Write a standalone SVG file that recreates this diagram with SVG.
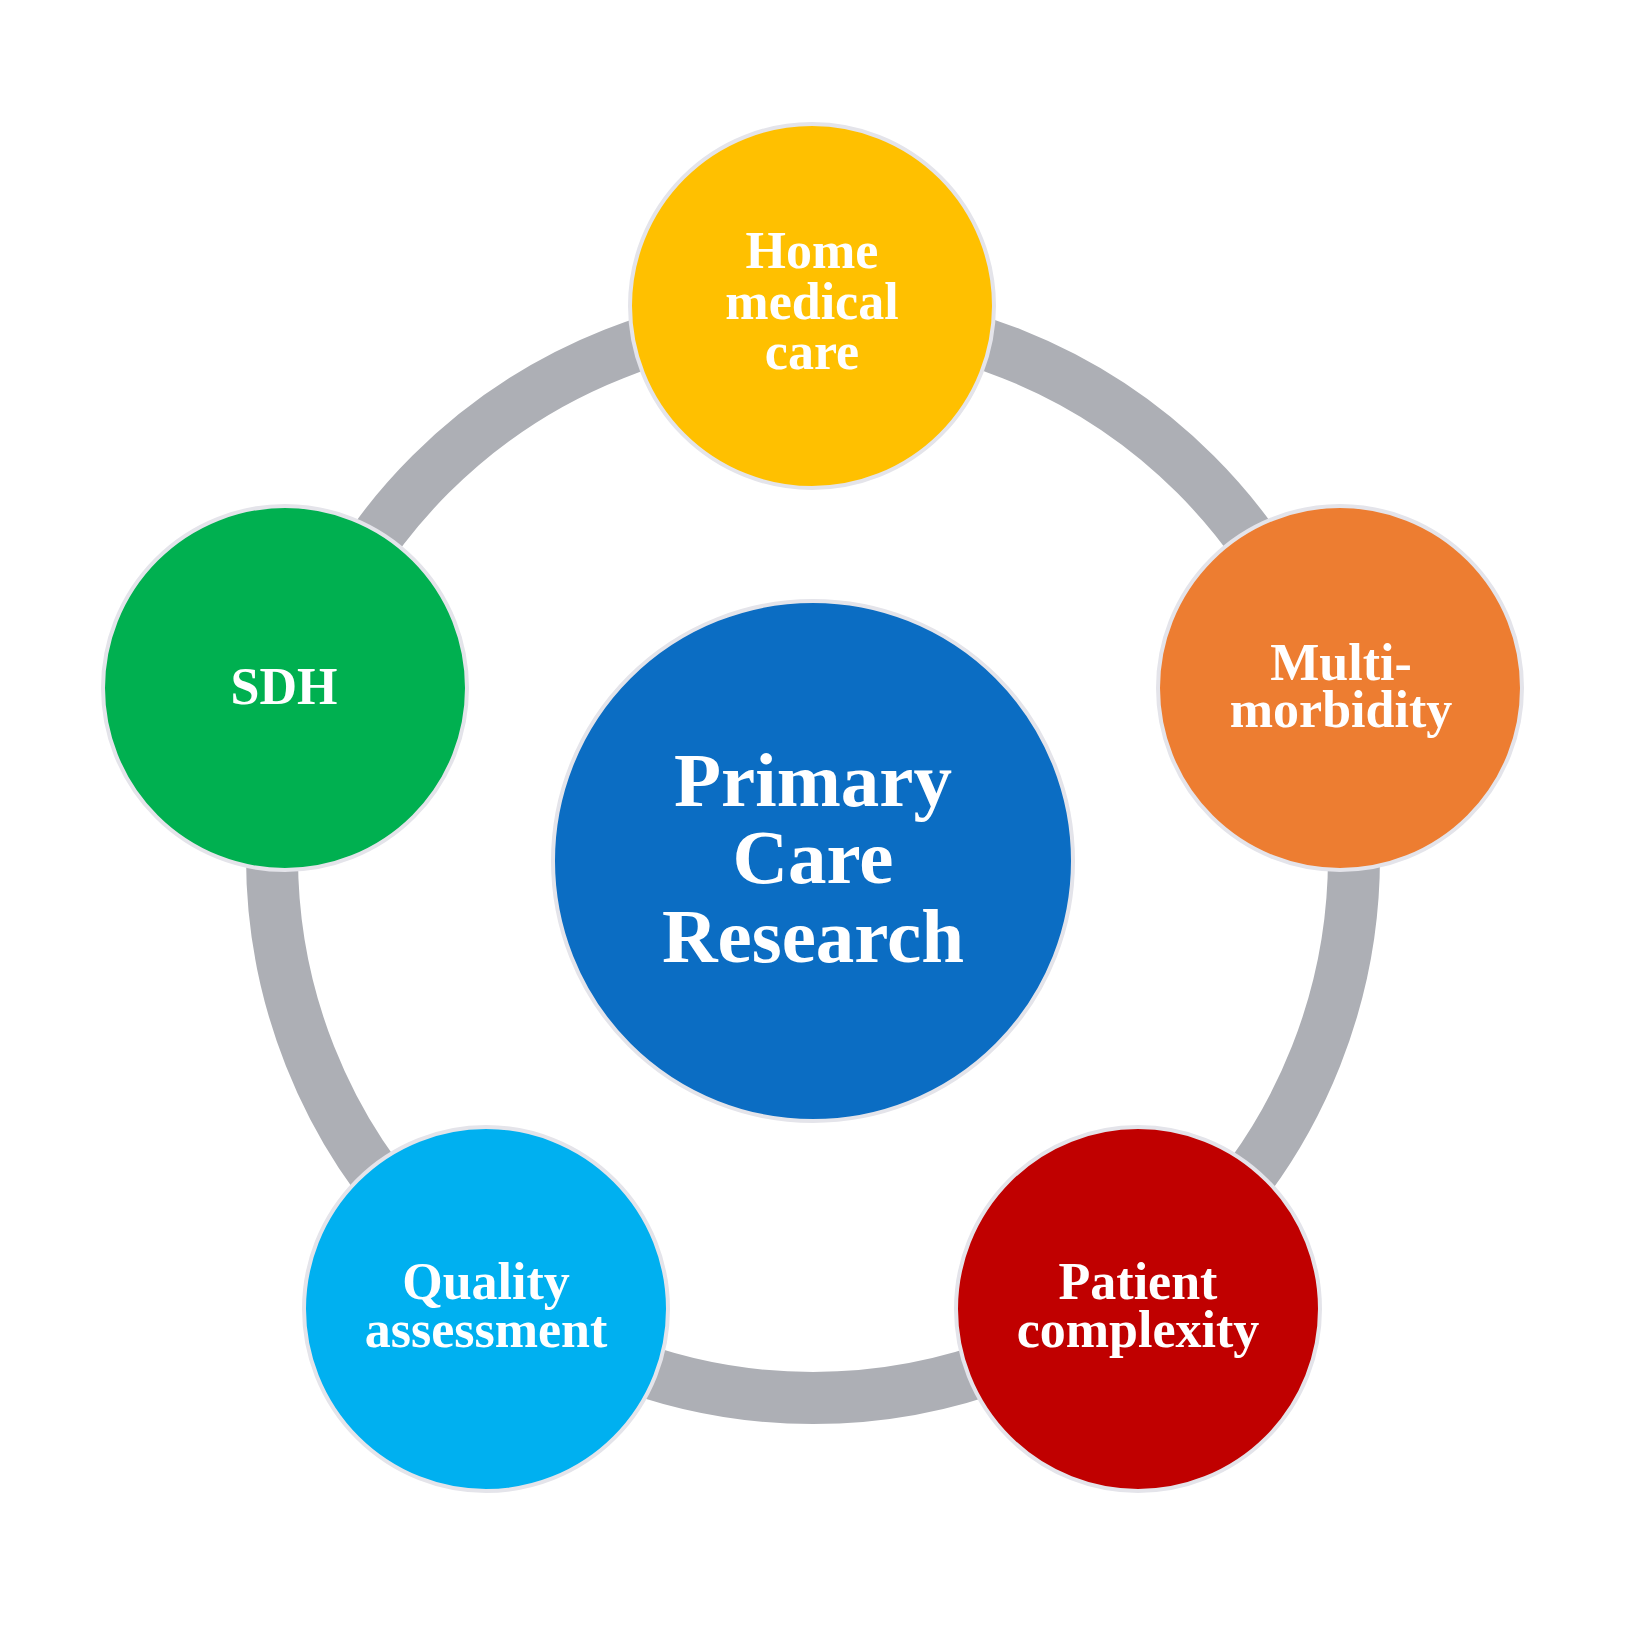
<svg xmlns="http://www.w3.org/2000/svg" width="1627" height="1627" viewBox="0 0 1627 1627">
<style>
.node{stroke:#E4E4EA;stroke-width:4}
.lbl{font-family:"Liberation Serif","Times New Roman",serif;font-weight:bold;fill:#FFFFFF;text-anchor:middle;font-size:52px}
.big{font-size:77px}
</style>
<rect width="1627" height="1627" fill="#FFFFFF"/>
<g id="connectors">
<circle cx="813" cy="857" r="541" fill="none" stroke="#ADAFB5" stroke-width="52"/>
</g>
<g id="center">
<circle class="node" cx="813" cy="861" r="260" fill="#0B6DC3"/>
<text class="lbl big" x="813" y="806">Primary</text>
<text class="lbl big" x="813" y="883">Care</text>
<text class="lbl big" x="813" y="962">Research</text>
</g>
<g id="home">
<circle class="node" cx="812" cy="306" r="182" fill="#FFC000"/>
<text class="lbl" x="812" y="268">Home</text>
<text class="lbl" x="812" y="319">medical</text>
<text class="lbl" x="812" y="369">care</text>
</g>
<g id="multi">
<circle class="node" cx="1340" cy="688" r="182" fill="#ED7D31"/>
<text class="lbl" x="1341" y="680">Multi-</text>
<text class="lbl" x="1341" y="727">morbidity</text>
</g>
<g id="sdh">
<circle class="node" cx="285" cy="688" r="182" fill="#00B050"/>
<text class="lbl" x="284" y="704">SDH</text>
</g>
<g id="quality">
<circle class="node" cx="486" cy="1309" r="182" fill="#00B0F0"/>
<text class="lbl" x="486" y="1299">Quality</text>
<text class="lbl" x="486" y="1347">assessment</text>
</g>
<g id="patient">
<circle class="node" cx="1138" cy="1309" r="182" fill="#C00000"/>
<text class="lbl" x="1138" y="1299">Patient</text>
<text class="lbl" x="1138" y="1347">complexity</text>
</g>
</svg>
